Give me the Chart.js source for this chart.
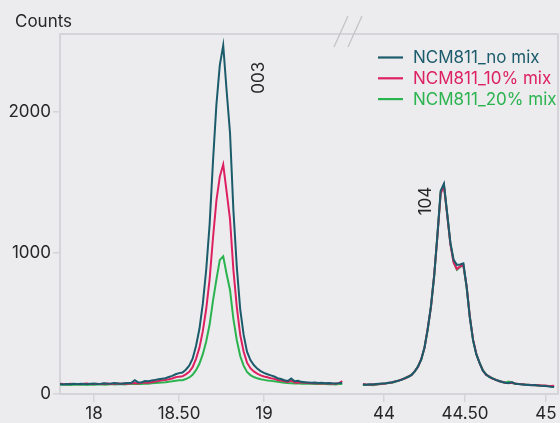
<!DOCTYPE html>
<html><head><meta charset="utf-8">
<script src="https://cdn.jsdelivr.net/npm/chart.js@4.4.0/dist/chart.umd.min.js"></script>
<style>html,body{margin:0;padding:0;background:#ececee;}canvas{display:block;}</style>
</head><body>
<canvas id="c" width="560" height="423"></canvas>
<script>
// ---- data (2θ in degrees, intensity in counts) ----
const seriesNames = ['NCM811_no mix', 'NCM811_10% mix', 'NCM811_20% mix'];
const seriesColors = ['#1b5b6b', '#dd2160', '#2bb34f'];

const leftTheta = [17.80,17.82,17.84,17.86,17.88,17.90,17.92,17.94,17.96,17.98,18.00,18.02,18.04,18.06,18.08,18.10,18.12,18.14,18.16,18.18,18.20,18.22,18.24,18.26,18.28,18.30,18.32,18.34,18.36,18.38,18.40,18.42,18.44,18.46,18.48,18.50,18.52,18.54,18.56,18.58,18.60,18.62,18.64,18.66,18.68,18.70,18.72,18.74,18.76,18.78,18.80,18.82,18.84,18.86,18.88,18.90,18.92,18.94,18.96,18.98,19.00,19.02,19.04,19.06,19.08,19.10,19.12,19.14,19.16,19.18,19.20,19.22,19.24,19.26,19.28,19.30,19.32,19.34,19.36,19.38,19.40,19.42,19.44,19.46];
const noMixLeft = [70,68,71,69,72,70,73,71,69,72,74,71,73,76,72,74,77,75,73,76,78,80,98,82,84,92,90,96,100,104,108,112,120,128,140,148,152,172,200,250,340,460,640,880,1200,1650,2050,2330,2470,2150,1850,1300,900,600,420,300,240,205,180,162,150,140,132,124,112,106,98,92,110,90,94,86,84,82,80,81,78,79,77,78,76,75,77,80];
const mix10Left = [72,70,69,72,70,71,69,72,74,70,71,73,70,72,74,71,73,75,72,74,73,76,78,75,79,82,80,84,88,92,97,99,104,110,118,123,125,139,157,190,249,327,445,602,812,1107,1369,1540,1625,1434,1238,877,615,419,301,222,183,160,144,132,124,118,112,107,99,95,90,86,94,82,80,83,79,78,76,77,75,76,74,75,73,74,76,92];
const mix20Left = [66,65,67,64,66,68,65,67,66,68,65,67,69,66,68,70,67,69,71,68,70,72,70,73,71,74,72,76,78,80,82,84,87,90,94,97,98,106,117,136,169,214,282,372,492,661,811,950,975,850,737,531,381,269,201,156,134,120,111,104,100,96,93,90,86,83,80,78,77,75,76,73,74,72,73,71,72,70,71,69,70,68,70,71];

const rightTheta = [43.87,43.89,43.91,43.93,43.95,43.97,43.99,44.01,44.03,44.05,44.07,44.09,44.11,44.13,44.15,44.17,44.19,44.21,44.23,44.25,44.27,44.29,44.31,44.33,44.35,44.37,44.39,44.41,44.43,44.45,44.47,44.49,44.51,44.53,44.55,44.57,44.59,44.61,44.63,44.65,44.67,44.69,44.71,44.73,44.75,44.77,44.79,44.81,44.83,44.85,44.87,44.89,44.91,44.93,44.95,44.97,44.99,45.01,45.03,45.05];
const noMixRight = [68,66,69,67,70,72,74,76,80,84,88,95,102,112,122,135,160,195,245,330,460,620,840,1130,1440,1490,1280,1070,950,915,918,925,760,540,380,280,220,165,138,122,110,100,92,85,80,76,84,72,70,68,66,64,62,63,60,58,57,55,52,50];
const mix10Right = [70,68,66,69,68,71,73,75,79,82,90,93,104,110,124,133,162,192,248,325,465,615,845,1120,1420,1475,1270,1060,930,885,905,910,765,545,385,285,218,168,135,125,108,102,90,87,78,78,80,74,71,69,67,66,64,62,63,61,60,58,57,59];
const mix20Right = [64,63,65,62,66,69,71,74,78,80,87,96,100,113,120,137,158,196,242,328,455,625,835,1125,1430,1480,1275,1065,935,880,900,912,755,548,378,282,222,170,140,120,112,98,94,83,82,88,78,73,70,70,67,65,63,64,61,59,58,56,55,54];

const leftTicks = [18, 18.5, 19];
const leftTickLabels = ['18', '18.50', '19'];
const rightTicks = [44, 44.5, 45];
const rightTickLabels = ['44', '44.50', '45'];
const yTicks = [0, 1000, 2000];
const yTickLabels = ['0', '1000', '2000'];

const peakLabels = ['003', '104'];
const peakLabelTheta = [18.97, 44.26];
const peakLabelCounts = [2240, 1367];
const peakLabelAxis = ['xL', 'xR'];

// ---- build ----
const FONT = 'Inter, "Noto Sans", sans-serif';
const FS = 17;
const textColor = '#262626';
const frameColor = '#d5d5d9';

function pts(xs, ys) { return xs.map((x, i) => ({x: x, y: ys[i]})); }
const leftSeries = [noMixLeft, mix10Left, mix20Left];
const rightSeries = [noMixRight, mix10Right, mix20Right];
const datasets = [];
for (let s = 0; s < 3; s++) {
  [['xL', leftTheta, leftSeries[s]], ['xR', rightTheta, rightSeries[s]]].forEach(([ax, xs, ys]) => {
    datasets.push({
      label: seriesNames[s], data: pts(xs, ys), xAxisID: ax, yAxisID: 'y',
      borderColor: seriesColors[s], backgroundColor: seriesColors[s],
      borderWidth: 2, pointRadius: 0, tension: 0, fill: false
    });
  });
}

const decor = {
  id: 'decor',
  beforeDraw(chart) {
    const c = chart.ctx;
    c.save(); c.fillStyle = '#ececee'; c.fillRect(0, 0, chart.width, chart.height); c.restore();
  },
  beforeDatasetsDraw(chart) {
    const c = chart.ctx, a = chart.chartArea;
    c.save();
    c.strokeStyle = frameColor; c.lineWidth = 2;
    c.strokeRect(a.left, a.top, a.right - a.left, a.bottom - a.top);
    c.restore();
  },
  afterDraw(chart) {
    const c = chart.ctx, a = chart.chartArea;
    c.save();
    c.font = FS + 'px ' + FONT; c.fillStyle = textColor;
    c.textAlign = 'left'; c.textBaseline = 'middle';
    c.fillText('Counts', 15, 22);
    const bx = chart.scales.xL.right;
    c.strokeStyle = '#c4c4c8'; c.lineWidth = 1.3;
    [-14, 0].forEach(dx => {
      c.beginPath(); c.moveTo(bx + dx, a.top + 13); c.lineTo(bx + dx + 14, a.top - 18); c.stroke();
    });
    c.fillStyle = textColor;
    c.textAlign = 'center'; c.textBaseline = 'middle';
    peakLabels.forEach((t, i) => {
      const x = chart.scales[peakLabelAxis[i]].getPixelForValue(peakLabelTheta[i]);
      const y = chart.scales.y.getPixelForValue(peakLabelCounts[i]);
      c.save(); c.translate(x, y); c.rotate(-Math.PI / 2); c.fillText(t, 0, 0); c.restore();
    });
    c.textAlign = 'left'; c.textBaseline = 'middle';
    seriesNames.forEach((n, i) => {
      const y = 57.5 + i * 20.8;
      c.strokeStyle = seriesColors[i]; c.lineWidth = 2.2;
      c.beginPath(); c.moveTo(378, y); c.lineTo(403, y); c.stroke();
      c.fillStyle = seriesColors[i];
      c.fillText(n, 413, y + 0.5);
    });
    c.restore();
  }
};

function xAxis(min, max, ticks, labels, weight) {
  return {
    type: 'linear', position: 'bottom', stack: 'x', stackWeight: weight,
    min: min, max: max, offset: false,
    afterBuildTicks: s => { s.ticks = ticks.map(v => ({value: v})); },
    afterFit: s => { s.height = 29; s.paddingLeft = 0; s.paddingRight = 0; },
    ticks: { autoSkip: false, maxRotation: 0, padding: 2, color: textColor,
      font: {family: FONT, size: FS},
      callback: v => labels[ticks.indexOf(v)] },
    grid: { drawOnChartArea: false, tickLength: 8, color: frameColor, lineWidth: 1.5 },
    border: { display: false }
  };
}

new Chart(document.getElementById('c'), {
  type: 'line',
  data: { datasets: datasets },
  options: {
    responsive: false, animation: false, devicePixelRatio: 1,
    layout: { padding: { top: 34, right: 2, left: 0, bottom: 0 } },
    plugins: { legend: { display: false }, tooltip: { enabled: false }, title: { display: false } },
    scales: {
      xL: xAxis(17.80, 19.494, leftTicks, leftTickLabels, 288),
      xR: xAxis(43.778, 45.074, rightTicks, rightTickLabels, 210),
      y: {
        type: 'linear', position: 'left', min: 0, max: 2550,
        afterBuildTicks: s => { s.ticks = yTicks.map(v => ({value: v})); },
        afterFit: s => { s.width = 60; s.paddingTop = 0; s.paddingBottom = 0; },
        ticks: { padding: 2, color: textColor, font: {family: FONT, size: FS},
          callback: v => yTickLabels[yTicks.indexOf(v)] },
        grid: { drawOnChartArea: false, tickLength: 7, color: frameColor, lineWidth: 1.5 },
        border: { display: false }
      }
    }
  },
  plugins: [decor]
});
</script>
</body></html>
